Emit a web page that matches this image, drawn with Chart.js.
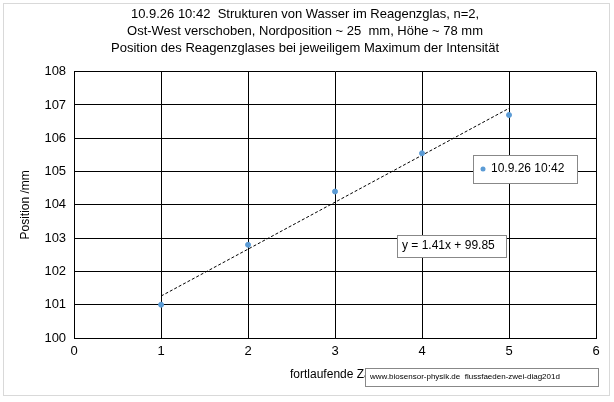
<!DOCTYPE html>
<html><head><meta charset="utf-8">
<script src="https://cdn.jsdelivr.net/npm/chart.js@4"></script>
<style>html,body{margin:0;padding:0;background:#fff}#w{width:614px;height:402px;position:relative}</style>
</head><body><div id="w"><canvas id="c" width="614" height="402"></canvas></div>
<script>
const xValues=[1,2,3,4,5];
const positions=[101.0,102.8,104.4,105.55,106.7];
const trendX=[1,5];
const trendY=[101.26,106.90];
const yTicks=[100,101,102,103,104,105,106,107,108];
const xTicks=[0,1,2,3,4,5,6];
const titleLines=["10.9.26 10:42  Strukturen von Wasser im Reagenzglas, n=2,","Ost-West verschoben, Nordposition ~ 25  mm, Höhe ~ 78 mm","Position des Reagenzglases bei jeweiligem Maximum der Intensität"];
const seriesName="10.9.26 10:42";
const equation="y = 1.41x + 99.85";
const credit="www.biosensor-physik.de  flussfaeden-zwei-diag201d";
const F="'Liberation Sans', Arial, sans-serif";
const boxes={id:'boxes',afterDraw(ch){
 const c=ch.ctx;c.save();
 c.strokeStyle='#d9d9d9';c.lineWidth=1;c.strokeRect(3.5,3.5,606,392);
 c.fillStyle='#fff';c.strokeStyle='#888';c.fillRect(473,155,104,28);c.strokeRect(473.5,155.5,104,28);
 c.fillStyle='#5b9bd5';c.beginPath();c.arc(483,169,2.5,0,7);c.fill();
 c.fillStyle='#000';c.font='12px '+F;c.textBaseline='middle';c.fillText(seriesName,491,169);
 c.fillStyle='#fff';c.fillRect(397,235,109,22);c.strokeRect(397.5,235.5,109,22);
 c.fillStyle='#000';c.fillText(equation,402,246);
 c.fillStyle='#fff';c.fillRect(365,368,233,18);c.strokeRect(365.5,368.5,233,18);
 c.fillStyle='#000';c.font='8px '+F;c.fillText(credit,370,377);
 c.restore();}};
new Chart(document.getElementById('c'),{
 data:{datasets:[
  {type:'scatter',label:seriesName,data:xValues.map((x,i)=>({x,y:positions[i]})),backgroundColor:'#5b9bd5',borderColor:'#5b9bd5',pointRadius:2.5},
  {type:'line',label:'trend',data:trendX.map((x,i)=>({x,y:trendY[i]})),borderColor:'#000',borderWidth:1,borderDash:[3,2],pointRadius:0,fill:false}
 ]},
 options:{responsive:false,animation:false,devicePixelRatio:1,
  layout:{padding:{left:14,right:18,top:6,bottom:16}},
  plugins:{legend:{display:false},tooltip:{enabled:false},
   title:{display:true,text:titleLines,color:'#000',font:{family:F,size:13,weight:'normal',lineHeight:1.3},padding:{top:0,bottom:15}}},
  scales:{
   x:{type:'linear',min:0,max:6,afterBuildTicks:a=>{a.ticks=xTicks.map(v=>({value:v}))},
    grid:{color:'#000',drawTicks:false},border:{color:'#000'},
    ticks:{color:'#000',font:{family:F,size:13},padding:6},
    title:{display:true,text:'fortlaufende Zahl',color:'#000',font:{family:F,size:12},padding:{top:2}}},
   y:{min:100,max:108,afterBuildTicks:a=>{a.ticks=yTicks.map(v=>({value:v}))},
    grid:{color:'#000',drawTicks:false},border:{color:'#000'},
    ticks:{color:'#000',font:{family:F,size:13},padding:8},
    title:{display:true,text:'Position /mm',color:'#000',font:{family:F,size:12},padding:{bottom:4}}}
  }},
 plugins:[boxes]});
</script></body></html>
